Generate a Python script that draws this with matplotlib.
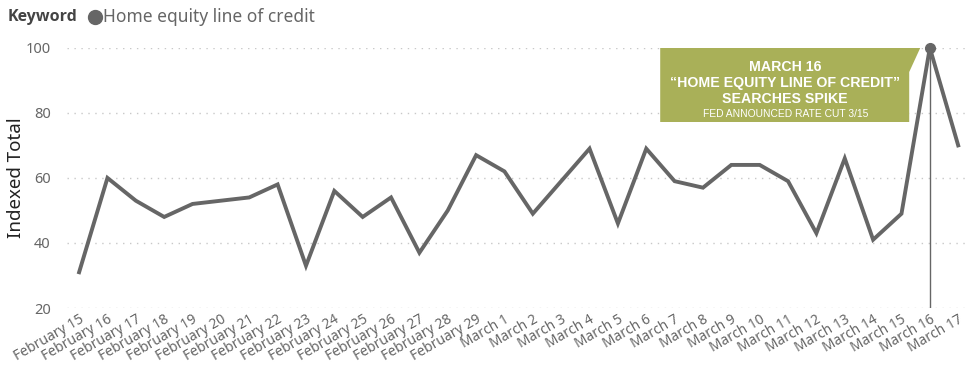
import matplotlib.pyplot as plt
from matplotlib.patches import Polygon
from matplotlib.lines import Line2D

# Daily search interest for "Home equity line of credit"
dates = ['February %d' % d for d in range(15, 30)] + ['March %d' % d for d in range(1, 18)]
values = [31, 60, 53, 48, 52, 53, 54, 58, 33, 56, 48, 54, 37, 50, 67,
          62, 49, 59, 69, 46, 69, 59, 57, 64, 64, 59, 43, 66, 41, 49, 100, 70]
y_ticks = [20, 40, 60, 80, 100]
spike_label = 'March 16'

LINE = '#666666'
TEXT = '#666666'
GREEN = '#a9b058'

plt.rcParams['font.family'] = ['Noto Sans', 'DejaVu Sans']

fig = plt.figure(figsize=(9.74, 3.68), dpi=100)
ax = fig.add_axes([0.069, 0.163, 0.927, 0.707])

x = list(range(len(dates)))
ax.plot(x, values, color=LINE, linewidth=2.8, solid_joinstyle='miter', clip_on=False, zorder=3)

# spike marker + drop line
i = dates.index(spike_label)
ax.plot([i], [values[i]], 'o', color=LINE, markersize=7, clip_on=False, zorder=4)
ax.plot([i, i], [20, values[i]], color=LINE, linewidth=1.0, zorder=2)

ax.set_xlim(-0.42, len(dates) - 1 + 0.42)
ax.set_ylim(20, 100)
ax.set_yticks(y_ticks)
ax.set_xticks(x)
ax.set_xticklabels(dates, rotation=30, ha='right', rotation_mode='anchor', fontsize=10, color=TEXT)
ax.tick_params(axis='y', labelsize=10.5, labelcolor=TEXT, length=0, pad=12)
ax.tick_params(axis='x', length=0, pad=3)
ax.grid(True, axis='y', color='#c8c8c8', linestyle=(0, (1, 4)), linewidth=1.0)
for s in ax.spines.values():
    s.set_visible(False)
fig.text(16 / 974, 1 - 178 / 368, 'Indexed Total', rotation=90, fontsize=13.5, color='#222222',
         ha='center', va='center')

# callout box (flag shape pointing to the spike), positions in pixels
def fx(px):
    return (px - 67) / (0.927 * 974)

def fy(py):
    return (368 * (1 - 0.163) - py) / (0.707 * 368)

box = Polygon([(fx(660), fy(48)), (fx(920), fy(48)), (fx(909), fy(72)),
               (fx(909), fy(122)), (fx(660), fy(122))],
              closed=True, transform=ax.transAxes, facecolor=GREEN, edgecolor='none', zorder=5)
ax.add_patch(box)
cx = fx(785)
box_font = ['Liberation Sans', 'DejaVu Sans']
for txt, py, size, weight in [('MARCH 16', 67, 10.2, 'bold'),
                              ('\u201cHOME EQUITY LINE OF CREDIT\u201d', 83, 10.2, 'bold'),
                              ('SEARCHES SPIKE', 99, 10.2, 'bold'),
                              ('FED ANNOUNCED RATE CUT 3/15', 114, 7.4, 'normal')]:
    ax.text(cx, fy(py), txt, transform=ax.transAxes, ha='center', va='center', color='white',
            fontsize=size, fontweight=weight, family=box_font, zorder=6)

# legend header
fig.text(8 / 974, 1 - 17 / 368, 'Keyword', fontsize=11.5, fontweight='bold', color='#444444',
         va='center', family=['Open Sans', 'DejaVu Sans'])
fig.add_artist(Line2D([95 / 974], [1 - 17 / 368], marker='o', markersize=10, color=LINE,
                      transform=fig.transFigure))
fig.text(103 / 974, 1 - 17 / 368, 'Home equity line of credit', fontsize=12.5, color=TEXT, va='center')

fig.savefig('out.png', dpi=100)
